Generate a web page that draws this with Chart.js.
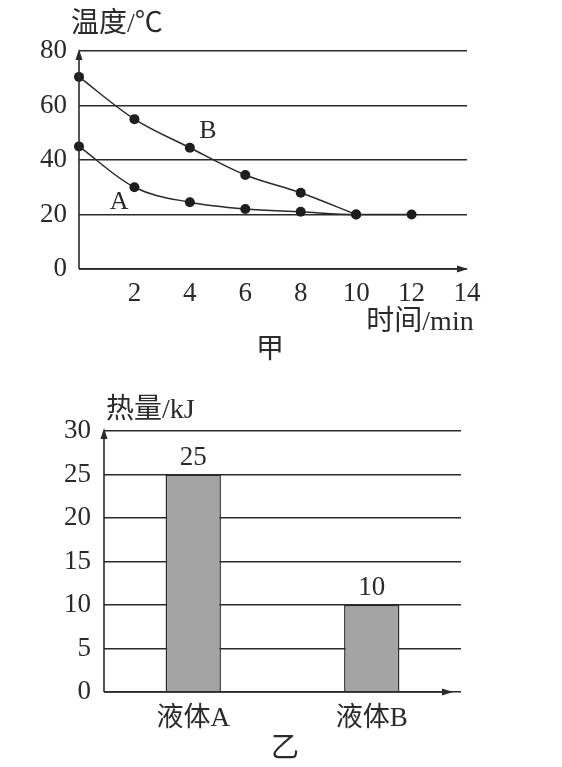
<!DOCTYPE html>
<html><head><meta charset="utf-8">
<script src="https://cdn.jsdelivr.net/npm/chart.js@4.4.0/dist/chart.umd.min.js"></script>
<style>
html,body{margin:0;padding:0;background:#fff;width:562px;height:767px;overflow:hidden}
#c1{position:absolute;left:0;top:0}
#c2{position:absolute;left:0;top:380px}
</style></head><body>
<canvas id="c1" width="562" height="380"></canvas>
<canvas id="c2" width="562" height="387"></canvas>
<script>
// ---- data ----
const timesA = [0, 2, 4, 6, 8, 10, 12];
const tempA  = [45, 30, 24.5, 22, 21, 20, 20];
const timesB = [0, 2, 4, 6, 8, 10];
const tempB  = [70.5, 55, 44.5, 34.5, 28, 20];
const tempTicks = [0, 20, 40, 60, 80];
const timeTicks = [2, 4, 6, 8, 10, 12, 14];
const liquids = ['液体A', '液体B'];
const heat = [25, 10];
const heatTicks = [0, 5, 10, 15, 20, 25, 30];

const FONT = '"Liberation Serif", "Noto Sans CJK SC", serif';
const INK = '#2a2a2a';
Chart.defaults.font.family = FONT;
Chart.defaults.color = INK;
Chart.defaults.devicePixelRatio = 1;

function axesPlugin(o) {
  return {
    id: 'axesArrows',
    afterDraw(chart) {
      const { ctx, chartArea: a } = chart;
      ctx.save();
      ctx.strokeStyle = INK; ctx.fillStyle = INK; ctx.lineWidth = 1.6;
      const yTip = a.top + o.yTip, xTip = a.right + o.xTip;
      ctx.beginPath(); ctx.moveTo(a.left, a.bottom); ctx.lineTo(a.left, yTip + 5);
      ctx.moveTo(a.left, a.bottom); ctx.lineTo(xTip - 5, a.bottom); ctx.stroke();
      ctx.beginPath(); ctx.moveTo(a.left, yTip); ctx.lineTo(a.left - 3.5, yTip + 11); ctx.lineTo(a.left + 3.5, yTip + 11); ctx.closePath(); ctx.fill();
      ctx.beginPath(); ctx.moveTo(xTip, a.bottom); ctx.lineTo(xTip - 11, a.bottom - 3.5); ctx.lineTo(xTip - 11, a.bottom + 3.5); ctx.closePath(); ctx.fill();
      ctx.restore();
    }
  };
}
function textPlugin(items) {
  return {
    id: 'texts',
    afterDraw(chart) {
      const ctx = chart.ctx;
      ctx.save();
      ctx.fillStyle = INK; ctx.textBaseline = 'middle';
      for (const t of items) {
        ctx.font = (t.size || 27) + 'px ' + FONT;
        ctx.textAlign = t.align || 'center';
        let x = t.x, y = t.y;
        if (t.data) { x = chart.scales.x.getPixelForValue(t.data[0]); y = chart.scales.y.getPixelForValue(t.data[1]); }
        ctx.fillText(t.text, x, y);
      }
      ctx.restore();
    }
  };
}

// ---- chart 甲 ----
new Chart(document.getElementById('c1'), {
  type: 'line',
  data: {
    datasets: [
      { label: 'A', clip: false, data: timesA.map((t, i) => ({ x: t, y: tempA[i] })) },
      { label: 'B', clip: false, data: timesB.map((t, i) => ({ x: t, y: tempB[i] })) }
    ]
  },
  options: {
    responsive: false, animation: false,
    layout: { padding: { top: 51, right: 95, left: 0, bottom: 0 } },
    elements: {
      line: { borderColor: INK, borderWidth: 1.5, cubicInterpolationMode: 'monotone', fill: false },
      point: { radius: 5, backgroundColor: '#1e1e1e', borderWidth: 0, borderColor: '#1e1e1e' }
    },
    plugins: { legend: { display: false }, tooltip: { enabled: false } },
    scales: {
      x: {
        type: 'linear', min: 0, max: 14,
        afterBuildTicks: s => { s.ticks = timeTicks.map(v => ({ value: v })); },
        afterFit: s => { s.height = 111; },
        grid: { display: false, drawTicks: false },
        border: { display: false },
        ticks: { font: { size: 27 }, padding: 9, color: INK, maxRotation: 0 }
      },
      y: {
        min: 0, max: 80,
        afterBuildTicks: s => { s.ticks = tempTicks.map(v => ({ value: v })); },
        afterFit: s => { s.width = 79; },
        grid: { color: INK, lineWidth: 1.4, drawTicks: false },
        border: { display: false },
        ticks: { font: { size: 27 }, padding: 12, color: INK }
      }
    }
  },
  plugins: [axesPlugin({ yTip: -2, xTip: 1 }), textPlugin([
    { text: '温度/℃', x: 71, y: 25, align: 'left', size: 28 },
    { text: '时间/min', x: 420, y: 323, size: 28 },
    { text: '甲', x: 270, y: 351, size: 28 },
    { text: 'B', data: [4.65, 50.5], size: 26 },
    { text: 'A', data: [1.45, 24.6], size: 26 }
  ])]
});

// ---- chart 乙 ----
new Chart(document.getElementById('c2'), {
  type: 'bar',
  data: {
    labels: liquids,
    datasets: [{ data: heat, backgroundColor: '#a4a4a4', borderColor: INK, borderWidth: 1.5,
                 barPercentage: 0.31, categoryPercentage: 1 }]
  },
  options: {
    responsive: false, animation: false,
    layout: { padding: { top: 51, right: 101, left: 0, bottom: 0 } },
    plugins: { legend: { display: false }, tooltip: { enabled: false } },
    scales: {
      x: {
        afterFit: s => { s.height = 75; },
        grid: { display: false, drawTicks: false },
        border: { display: false },
        ticks: { font: { size: 27 }, padding: 11, color: INK }
      },
      y: {
        min: 0, max: 30,
        afterBuildTicks: s => { s.ticks = heatTicks.map(v => ({ value: v })); },
        afterFit: s => { s.width = 104; },
        grid: { color: INK, lineWidth: 1.4, drawTicks: false },
        border: { display: false },
        ticks: { font: { size: 27 }, padding: 13, color: INK }
      }
    }
  },
  plugins: [axesPlugin({ yTip: -3, xTip: -8 }), {
    id: 'valueLabels',
    afterDatasetsDraw(chart) {
      const ctx = chart.ctx, meta = chart.getDatasetMeta(0);
      ctx.save(); ctx.fillStyle = INK; ctx.font = '27px ' + FONT;
      ctx.textAlign = 'center'; ctx.textBaseline = 'middle';
      meta.data.forEach((el, i) => ctx.fillText(String(heat[i]), el.x, el.y - 17));
      ctx.restore();
    }
  }, textPlugin([
    { text: '热量/kJ', x: 106, y: 31, align: 'left', size: 28 },
    { text: '乙', x: 285, y: 370, size: 28 }
  ])]
});
</script>
</body></html>
